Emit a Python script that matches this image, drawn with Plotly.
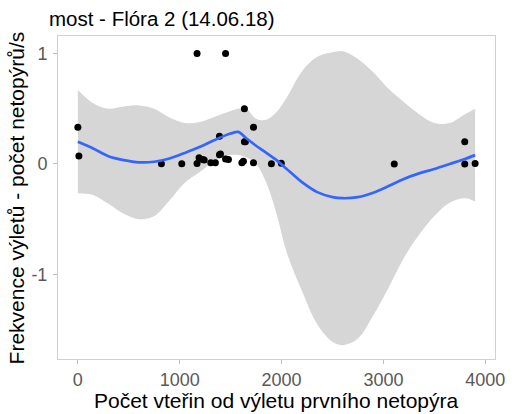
import plotly.graph_objects as go

# Observations (seconds since first bat emergence, bats per second)
obs_x = [0, 10, 820, 1020, 1170, 1450, 1170, 1190, 1225, 1240, 1305, 1350, 1390, 1400,
         1390, 1450, 1478, 1610, 1625, 1635, 1645, 1635, 1724, 1724, 1900, 1997, 3106,
         3798, 3798, 3900]
obs_y = [0.333, 0.071, 0.003, 0.003, 1.0, 1.0, 0.005, 0.056, 0.04, 0.036, 0.012, 0.012,
         0.083, 0.09, 0.25, 0.045, 0.04, 0.01, 0.025, 0.2, 0.2, 0.5, 0.333, 0.01, 0.003,
         0.006, 0.0, 0.2, 0.0, 0.005]

# Smoothed fit (loess) and its confidence band
fit_x = [0, 150, 300, 450, 600, 750, 900, 1050, 1200, 1350, 1500, 1575, 1650, 1750,
         1850, 1950, 2050, 2200, 2350, 2500, 2600, 2750, 2900, 3050, 3200, 3350, 3500,
         3650, 3800, 3900]
fit_y = [0.20, 0.14, 0.07, 0.035, 0.015, 0.02, 0.05, 0.10, 0.155, 0.22, 0.275, 0.29,
         0.235, 0.165, 0.10, 0.035, -0.045, -0.165, -0.255, -0.30, -0.31, -0.30, -0.26,
         -0.20, -0.135, -0.085, -0.045, 0.0, 0.045, 0.08]
fit_hi = [0.67, 0.55, 0.50, 0.52, 0.53, 0.50, 0.42, 0.37, 0.38, 0.43, 0.48, 0.50,
          0.50, 0.41, 0.40, 0.47, 0.60, 0.84, 0.97, 1.01, 1.02, 0.95, 0.83, 0.68,
          0.56, 0.45, 0.37, 0.37, 0.45, 0.50]
fit_lo = [-0.265, -0.28, -0.36, -0.45, -0.50, -0.47, -0.33, -0.17, -0.07, 0.03, 0.08,
          0.08, 0.06, 0.0, -0.17, -0.45, -0.80, -1.15, -1.45, -1.61, -1.64, -1.58,
          -1.37, -1.12, -0.85, -0.64, -0.47, -0.35, -0.31, -0.34]

x_ticks = [0, 1000, 2000, 3000, 4000]
y_ticks = [-1, 0, 1]

title = "most - Flóra 2 (14.06.18)"
x_title = "Počet vteřin od výletu prvního netopýra"
y_title = "Frekvence výletů - počet netopýrů/s"

FONT = "Liberation Sans, Arial, sans-serif"

fig = go.Figure()
fig.add_trace(go.Scatter(x=fit_x, y=fit_hi, mode="lines", line=dict(width=0, shape="spline"),
                         hoverinfo="skip", showlegend=False))
fig.add_trace(go.Scatter(x=fit_x, y=fit_lo, mode="lines", line=dict(width=0, shape="spline"),
                         fill="tonexty", fillcolor="#D6D6D6", hoverinfo="skip", showlegend=False))
fig.add_trace(go.Scatter(x=obs_x, y=obs_y, mode="markers",
                         marker=dict(color="black", size=7), showlegend=False))
fig.add_trace(go.Scatter(x=fit_x, y=fit_y, mode="lines",
                         line=dict(color="#3366FF", width=2.7, shape="spline", smoothing=0.8),
                         showlegend=False))

axis_common = dict(showgrid=False, zeroline=False, showline=True, mirror=True,
                   linecolor="#D0D0D0", linewidth=1, ticks="outside", ticklen=4,
                   tickcolor="#BDBDBD", tickwidth=1,
                   tickfont=dict(family=FONT, size=18, color="#595959"), fixedrange=True)

fig.update_layout(
    width=517, height=414,
    margin=dict(l=58, r=13, t=36, b=55),
    paper_bgcolor="white", plot_bgcolor="white",
    xaxis=dict(range=[-195, 4095], tickvals=x_ticks, ticktext=[str(v) for v in x_ticks],
               **axis_common),
    yaxis=dict(range=[-1.765, 1.158], tickvals=y_ticks, ticktext=[str(v) for v in y_ticks],
               ticklabelstandoff=2, **axis_common),
    title=dict(text=title, x=49 / 517, xanchor="left", xref="container",
               y=1 - 19 / 414, yanchor="middle", yref="container",
               font=dict(family=FONT, size=20.5, color="black")),
    annotations=[
        dict(text=x_title, xref="paper", yref="paper", x=0.5, y=-0.13, yanchor="middle",
             xanchor="center", showarrow=False, font=dict(family=FONT, size=21, color="black")),
        dict(text=y_title, xref="paper", yref="paper", x=-0.094, y=0.5, xanchor="center",
             yanchor="middle", textangle=-90, showarrow=False,
             font=dict(family=FONT, size=21, color="black")),
    ],
)

fig.write_html("out.html")
